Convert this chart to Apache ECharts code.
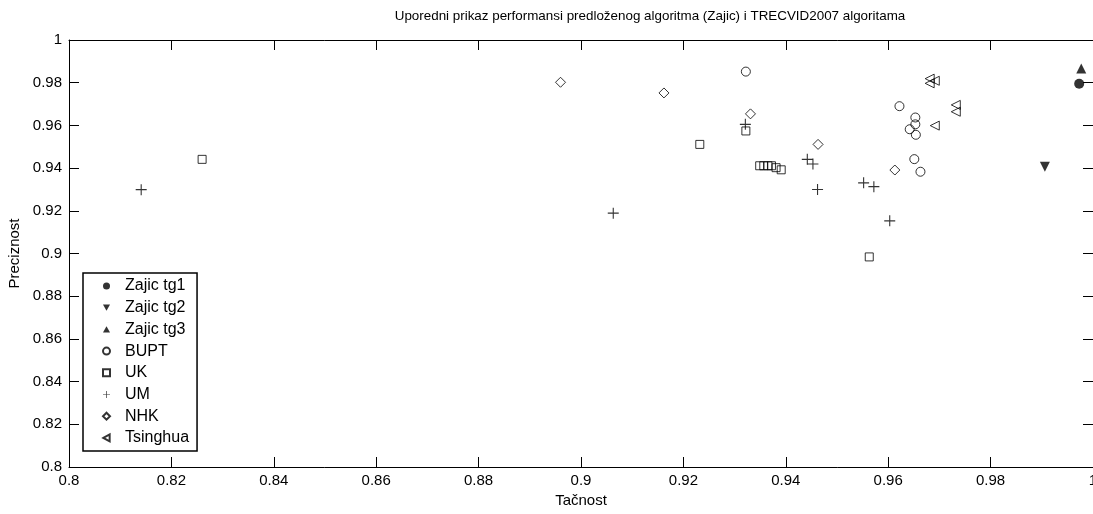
<html>
<head>
  <meta charset="utf-8">
  <title>Zajic vs TRECVID2007</title>
  <script src="https://cdn.jsdelivr.net/npm/echarts@6/dist/echarts.min.js"></script>
</head>

<body style="margin:0;background:#fff;">
<div id="main" style="width:1093px;height:514px;"></div>
<script>
  // tacnost / preciznost parovi, procitano sa slike
  var zajicTg1 = [[0.9973, 0.9795]];
  var zajicTg2 = [[0.9906, 0.9406]];
  var zajicTg3 = [[0.9977, 0.9866]];
  var bupt = [[0.9322, 0.9852], [0.9622, 0.9690], [0.9653, 0.9637], [0.9653, 0.9605],
    [0.9642, 0.9582], [0.9654, 0.9556], [0.9651, 0.9442], [0.9663, 0.9383]];
  var uk = [[0.8260, 0.9441], [0.9232, 0.9511], [0.9322, 0.9574], [0.9349, 0.9411],
    [0.9357, 0.9411], [0.9365, 0.9411], [0.9372, 0.9411], [0.9381, 0.9402],
    [0.9391, 0.9392], [0.9563, 0.8984]];
  var um = [[0.8141, 0.9299], [0.9063, 0.9189], [0.9321, 0.9605], [0.9442, 0.9441],
    [0.9453, 0.9419], [0.9462, 0.9300], [0.9552, 0.9331], [0.9572, 0.9313], [0.9603, 0.9153]];
  var nhk = [[0.8960, 0.9802], [0.9162, 0.9752], [0.9331, 0.9654], [0.9463, 0.9511], [0.9613, 0.9391]];
  var tsinghua = [[0.9681, 0.9819], [0.9691, 0.9809], [0.9681, 0.9797],
    [0.9732, 0.9696], [0.9732, 0.9664], [0.9691, 0.9599]];

  var font = 'Liberation Sans, Arial, sans-serif';
  var plus = 'path://M4.5,0H5.5V4.5H10V5.5H5.5V10H4.5V5.5H0V4.5H4.5Z';
  var downTri = 'path://M0,0L10,0L5,9Z';
  var upTri = 'path://M5,0L10,9L0,9Z';
  var leftTri = 'path://M0,5L9,0L9,10Z';

  var filled = {color: '#000'};
  var hollow = {color: 'rgba(0,0,0,0)', borderColor: '#000', borderWidth: 1};

  function axisX(pos, showLabel) {
    return {
      type: 'value', position: pos, min: 0.8, max: 1, interval: 0.02,
      axisLine: {show: true, onZero: false, lineStyle: {color: '#000', width: 1}},
      axisTick: {show: true, inside: true, length: 10, lineStyle: {color: '#000'}},
      axisLabel: {show: showLabel, color: '#000', fontSize: 15, fontFamily: font, margin: 6},
      splitLine: {show: false}
    };
  }
  function axisY(pos, showLabel) {
    return {
      type: 'value', position: pos, min: 0.8, max: 1, interval: 0.02,
      axisLine: {show: true, onZero: false, lineStyle: {color: '#000', width: 1}},
      axisTick: {show: true, inside: true, length: 10, lineStyle: {color: '#000'}},
      axisLabel: {show: showLabel, color: '#000', fontSize: 15, fontFamily: font, margin: 7},
      splitLine: {show: false}
    };
  }

  var xBottom = axisX('bottom', true);
  xBottom.name = 'Tačnost';
  xBottom.nameLocation = 'middle';
  xBottom.nameGap = 25;
  xBottom.nameTextStyle = {color: '#000', fontSize: 15, fontFamily: font};
  var yLeft = axisY('left', true);
  yLeft.name = 'Preciznost';
  yLeft.nameLocation = 'middle';
  yLeft.nameGap = 44;
  yLeft.nameTextStyle = {color: '#000', fontSize: 15, fontFamily: font};

  function ser(name, data, symbol, size, style) {
    return {
      name: name, type: 'scatter', data: data, symbol: symbol, symbolSize: size,
      itemStyle: style, xAxisIndex: 0, yAxisIndex: 0, animation: false
    };
  }

  var myChart = echarts.init(document.getElementById('main'));
  myChart.setOption({
    backgroundColor: '#fff',
    title: {
      text: 'Uporedni prikaz performansi predloženog algoritma (Zajic) i TRECVID2007 algoritama',
      left: 645, top: 5, textAlign: 'center',
      textStyle: {color: '#000', fontSize: 13.4, fontWeight: 'normal', fontFamily: font}
    },
    grid: {left: 69, top: 40, width: 1024, height: 427, containLabel: false, outerBoundsMode: 'none'},
    xAxis: [xBottom, axisX('top', false)],
    yAxis: [yLeft, axisY('right', false)],
    legend: {
      orient: 'vertical', left: 83, top: 273,
      backgroundColor: '#fff', borderColor: '#000', borderWidth: 1.5, borderRadius: 0,
      padding: [5, 8, 5, 19],
      itemWidth: 7, itemHeight: 7, itemGap: 5.7,
      textStyle: {color: '#000', fontSize: 16, fontFamily: font, lineHeight: 16, padding: [0, 0, 0, 10]},
      data: ['Zajic tg1', 'Zajic tg2', 'Zajic tg3', 'BUPT', 'UK', 'UM', 'NHK', 'Tsinghua']
    },
    series: [
      ser('Zajic tg1', zajicTg1, 'circle', 10, filled),
      ser('Zajic tg2', zajicTg2, downTri, 10, filled),
      ser('Zajic tg3', zajicTg3, upTri, 10, filled),
      ser('BUPT', bupt, 'circle', 9, hollow),
      ser('UK', uk, 'rect', 8, hollow),
      ser('UM', um, plus, 11, filled),
      ser('NHK', nhk, 'diamond', 10, hollow),
      ser('Tsinghua', tsinghua, leftTri, 9, hollow)
    ]
  });
</script>

</body>
</html>
